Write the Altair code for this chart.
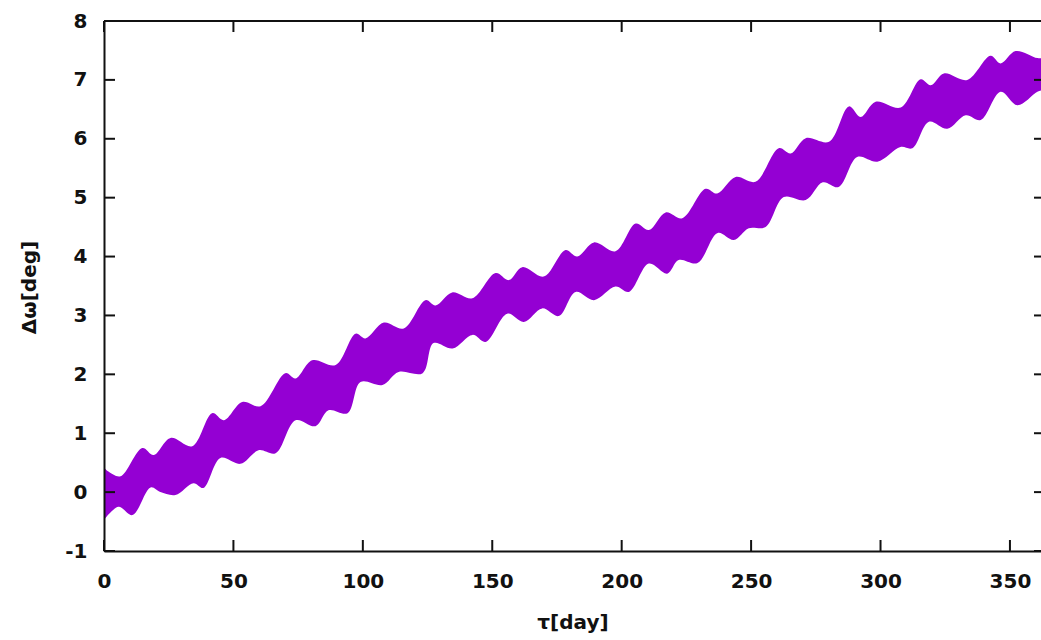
import altair as alt
import pandas as pd

# Upper envelope of the band (day, deg)
upper_day = [0.0, 1.7, 6.4, 14.8, 19.2, 25.7, 34.1, 41.8, 46.3, 53.4, 60.5, 70.1, 74.0, 80.4, 89.5,
             97.2, 101.0, 108.1, 115.8, 124.2, 128.1, 134.5, 142.3, 151.3, 156.4, 161.6, 169.9,
             178.3, 182.8, 189.3, 197.6, 205.4, 210.5, 217.0, 223.4, 232.4, 236.9, 244.0, 251.7,
             260.7, 265.3, 271.1, 280.1, 287.8, 292.3, 298.1, 307.8, 315.5, 319.4, 324.5, 333.5,
             342.5, 346.4, 352.2, 360.6, 363.0]
upper_val = [0.42, 0.35, 0.27, 0.75, 0.63, 0.92, 0.78, 1.34, 1.22, 1.53, 1.46, 2.02, 1.93, 2.24, 2.16,
             2.69, 2.61, 2.88, 2.78, 3.26, 3.17, 3.39, 3.29, 3.72, 3.60, 3.82, 3.66,
             4.11, 4.00, 4.24, 4.09, 4.56, 4.45, 4.75, 4.65, 5.15, 5.07, 5.35, 5.27,
             5.84, 5.75, 6.01, 5.95, 6.55, 6.37, 6.63, 6.53, 7.01, 6.91, 7.11, 7.00,
             7.41, 7.28, 7.49, 7.37, 7.37]

# Lower envelope of the band (day, deg)
lower_day = [0.0, 5.6, 11.0, 18.0, 21.8, 27.6, 34.6, 38.4, 45.0, 52.7, 59.7, 66.3, 74.0, 81.7, 86.7,
             94.1, 99.1, 107.6, 113.8, 123.1, 127.3, 134.7, 142.4, 147.4, 155.8, 162.2, 169.3,
             175.7, 182.2, 189.3, 197.6, 202.8, 210.5, 217.6, 222.0, 229.3, 237.1, 243.3, 249.1,
             255.6, 262.6, 271.1, 277.7, 283.8, 291.0, 298.8, 307.7, 312.3, 318.7, 325.8, 332.9,
             338.7, 346.4, 352.9, 360.6, 363.0]
lower_val = [-0.47, -0.25, -0.39, 0.08, 0.00, -0.05, 0.15, 0.07, 0.58, 0.48, 0.71, 0.66, 1.22, 1.12, 1.39,
             1.34, 1.87, 1.82, 2.04, 2.02, 2.53, 2.44, 2.67, 2.55, 3.03, 2.89, 3.12,
             2.99, 3.40, 3.26, 3.49, 3.40, 3.88, 3.71, 3.94, 3.89, 4.40, 4.28, 4.48,
             4.50, 5.01, 4.96, 5.26, 5.18, 5.69, 5.61, 5.86, 5.84, 6.29, 6.17, 6.40,
             6.32, 6.80, 6.57, 6.80, 6.83]

x_ticks = [0, 50, 100, 150, 200, 250, 300, 350]
y_ticks = [-1, 0, 1, 2, 3, 4, 5, 6, 7, 8]

W, H = 937, 530
FONT = "DejaVu Sans"
INK = "#111111"
PURPLE = "#9400d3"

up = pd.DataFrame({"day": upper_day, "val": upper_val})
lo = pd.DataFrame({"day": lower_day, "val": lower_val})
xt = pd.DataFrame({"day": x_ticks})
yt = pd.DataFrame({"val": y_ticks})

xscale = alt.Scale(domain=[0, 362], nice=False, zero=False)
yscale = alt.Scale(domain=[-1, 8], nice=False, zero=False)

xaxis = alt.Axis(values=x_ticks, ticks=False, tickSize=0, grid=False, labelFlush=False,
                 labelOverlap=False, labelFont=FONT, labelFontSize=20, labelFontWeight="bold",
                 labelColor=INK, labelPadding=20, domainColor=INK, domainWidth=2,
                 labelExpr="'' + datum.value",
                 title="τ[day]", titleFont=FONT, titleFontSize=20, titleFontWeight="bold",
                 titleColor=INK, titleY=61, zindex=1)
yaxis = alt.Axis(values=y_ticks, ticks=False, tickSize=0, grid=False, labelOverlap=False,
                 labelFont=FONT, labelFontSize=20, labelFontWeight="bold", labelColor=INK,
                 labelPadding=17, domainColor=INK, domainWidth=2,
                 labelExpr="'' + datum.value",
                 title="Δω[deg]", titleFont=FONT, titleFontSize=20, titleFontWeight="bold",
                 titleColor=INK, titleX=-65, titleY=266, zindex=1)

X = alt.X("day:Q", scale=xscale, axis=xaxis)
Y = alt.Y("val:Q", scale=yscale, axis=yaxis, stack=None)

band_top = alt.Chart(up).mark_area(color=PURPLE, interpolate="catmull-rom", clip=True, opacity=1).encode(
    x=X, y=Y, y2=alt.datum(-1),
)
band_cut = alt.Chart(lo).mark_area(color="white", interpolate="catmull-rom", clip=True, opacity=1).encode(
    x=X, y=Y, y2=alt.datum(-1),
)

tick_style = dict(color=INK, strokeWidth=2)
bottom_ticks = alt.Chart(xt).mark_rule(**tick_style).encode(
    x=X, y=alt.value(H), y2=alt.value(H - 11))
top_ticks = alt.Chart(xt).mark_rule(**tick_style).encode(
    x=X, y=alt.value(0), y2=alt.value(11))
left_ticks = alt.Chart(yt).mark_rule(**tick_style).encode(
    y=Y, x=alt.value(0), x2=alt.value(11))
right_ticks = alt.Chart(yt).mark_rule(**tick_style).encode(
    y=Y, x=alt.value(W - 7), x2=alt.value(W))
top_border = alt.Chart(xt).mark_rule(**tick_style).encode(
    x=alt.value(0), x2=alt.value(W), y=alt.value(0))

chart = alt.layer(band_top, band_cut, bottom_ticks, top_ticks, left_ticks, right_ticks, top_border).properties(
    width=W, height=H,
    padding={"left": 104, "top": 21, "right": 0, "bottom": 89},
    autosize=alt.AutoSizeParams(type="none"),
    background="white",
).configure_view(stroke=None)

chart.save("out.html", embed_options={"renderer": "svg", "actions": False})
